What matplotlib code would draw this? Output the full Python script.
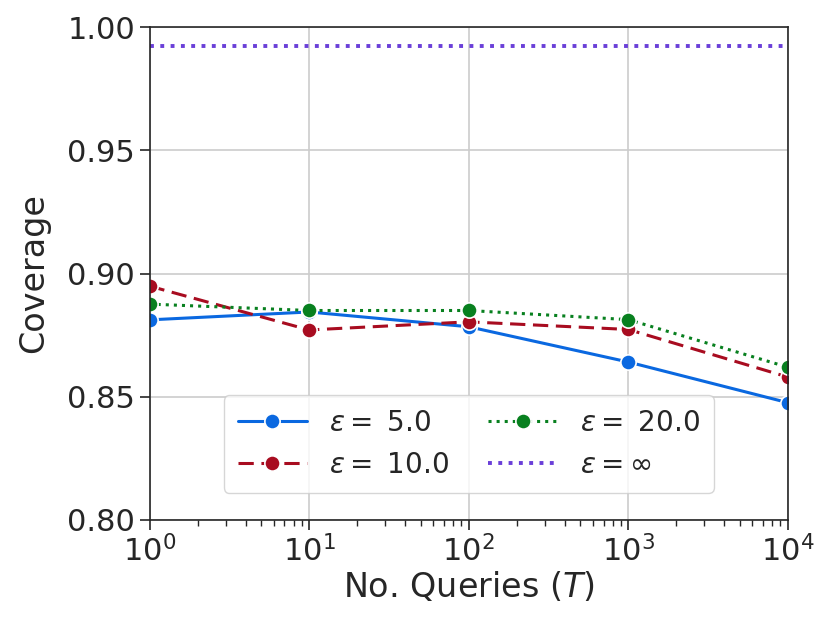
import matplotlib
matplotlib.use("Agg")
import matplotlib.pyplot as plt
import seaborn as sns

queries = [1, 10, 100, 1000, 10000]
cov_eps5 = [0.8812, 0.8844, 0.8784, 0.8641, 0.8476]
cov_eps10 = [0.8949, 0.8771, 0.8804, 0.8773, 0.8580]
cov_eps20 = [0.8876, 0.8850, 0.8850, 0.8813, 0.8620]
cov_inf = 0.9923

sns.set_theme(style="whitegrid")
plt.rcParams['font.family'] = ['DejaVu Sans']
plt.rcParams['mathtext.fontset'] = 'dejavusans'

fig, ax = plt.subplots(figsize=(8.31, 6.31), dpi=100)

mk = dict(marker='o', markersize=11, markeredgecolor='white', markeredgewidth=1.2, linewidth=2.2)
ax.plot(queries, cov_eps5, color='#0a68e0', linestyle='-', label=r'$\varepsilon = $ 5.0', **mk)
ax.plot(queries, cov_eps10, color='#a80c20', linestyle=(0, (5, 2.5)), label=r'$\varepsilon = $ 10.0', **mk)
ax.plot(queries, cov_eps20, color='#08801f', linestyle=':', label=r'$\varepsilon = $ 20.0', **mk)
ax.axhline(cov_inf, color='#6a3fd8', linestyle=':', linewidth=2.8, label=r'$\varepsilon = \infty$')

ax.set_xscale('log')
ax.set_xlim(1, 1e4)
ax.set_ylim(0.80, 1.00)
ax.set_yticks([0.80, 0.85, 0.90, 0.95, 1.00])
ax.set_yticklabels(['0.80', '0.85', '0.90', '0.95', '1.00'])

for s in ax.spines.values():
    s.set_color('#262626')
    s.set_linewidth(1.2)
ax.tick_params(axis='both', which='major', labelsize=22, direction='out', length=7, width=1.2,
               color='#262626', bottom=True, left=True, labelcolor='#262626')
ax.tick_params(axis='x', which='minor', direction='out', length=4, width=1.0, bottom=True, color='#262626')
ax.grid(True, which='major', color='#cccccc', linewidth=1.2)
ax.grid(False, which='minor')

ax.set_xlabel(r'No. Queries ($T$)', fontsize=24, color='#262626', labelpad=2)
ax.set_ylabel('Coverage', fontsize=24, color='#262626', labelpad=12)

ax.legend(ncol=2, fontsize=20, loc='lower center', bbox_to_anchor=(0.5, 0.027),
          frameon=True, framealpha=0.8, edgecolor='#cccccc', columnspacing=1.4,
          handlelength=2.5, borderpad=0.5, labelspacing=0.5)

fig.subplots_adjust(left=0.18, right=0.948, top=0.957, bottom=0.176)
fig.savefig('out.png', dpi=100)
